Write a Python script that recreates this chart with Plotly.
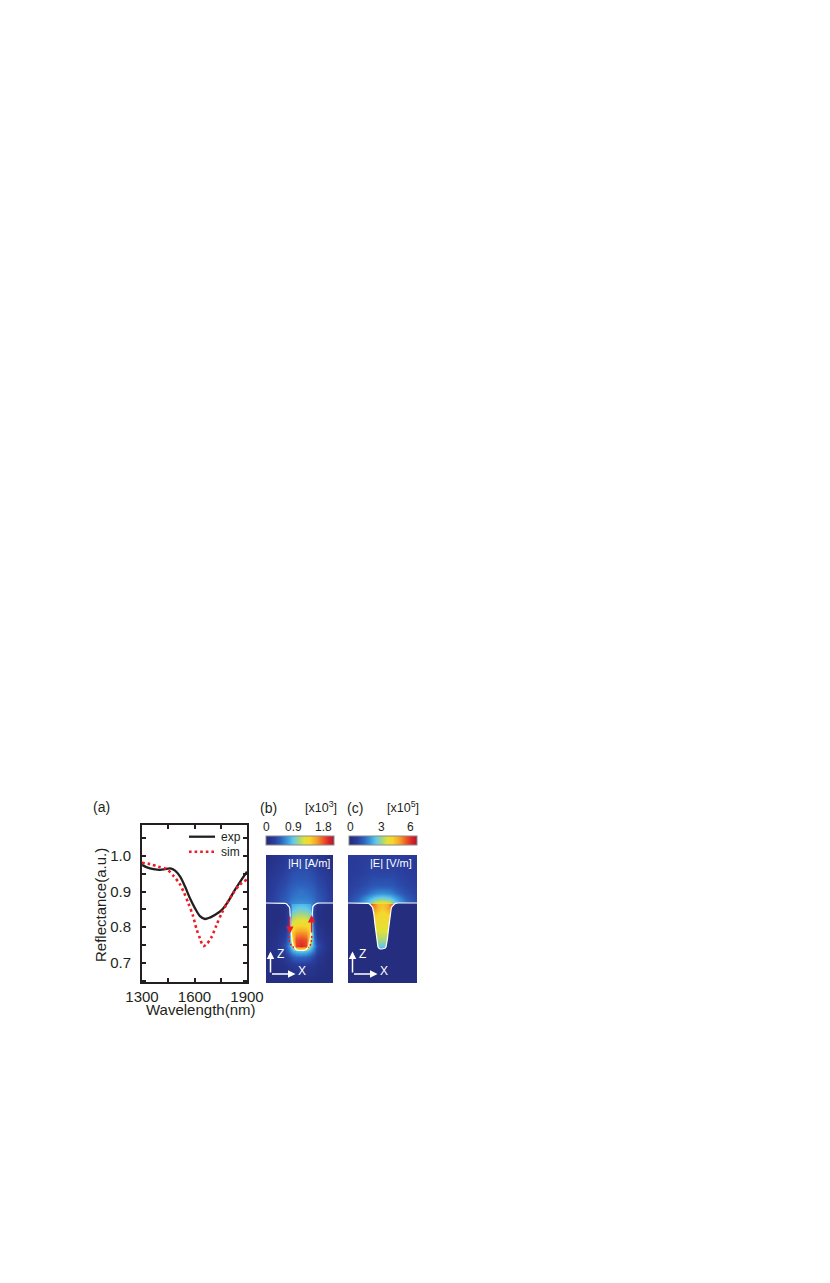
import plotly.graph_objects as go

W, H = 830, 1283
OFF = 8  # page body margin around the plotly div
FONT = "Liberation Sans, Arial, sans-serif"
INK = "#231f20"
RED = "#ec1c24"
NAVY = "#242d7e"

# ---- (a) reflectance spectra ------------------------------------------------
wl_exp = [1300, 1328, 1366, 1404, 1432, 1461, 1489, 1518, 1546, 1574,
          1603, 1631, 1660, 1688, 1716, 1755, 1792, 1830, 1868, 1900]
r_exp = [0.975, 0.968, 0.963, 0.961, 0.963, 0.965, 0.959, 0.942, 0.914, 0.881,
         0.853, 0.831, 0.823, 0.827, 0.834, 0.848, 0.872, 0.904, 0.933, 0.956]

wl_sim = [1300, 1347, 1394, 1442, 1480, 1514, 1540, 1565, 1590, 1612,
          1631, 1650, 1669, 1698, 1726, 1755, 1786, 1820, 1858, 1900]
r_sim = [0.981, 0.977, 0.970, 0.963, 0.944, 0.923, 0.897, 0.867, 0.834, 0.794,
         0.769, 0.747, 0.752, 0.773, 0.806, 0.839, 0.867, 0.895, 0.919, 0.934]

# ---- (b) |H| map [x10^3 A/m], x across the groove, z from the top surface ---
h_x = [-35, -24, -16, -12.5, -9, -5, 0, 5, 9, 12.5, 16, 24, 32]
h_z = [48, 35, 22, 12, 5, 0.5, -0.5, -6, -14, -22, -30, -37, -43, -48, -54, -63, -80]
h_map = [
    [0.05, 0.11, 0.16, 0.20, 0.22, 0.23, 0.23, 0.23, 0.22, 0.20, 0.16, 0.11, 0.05],
    [0.09, 0.16, 0.22, 0.25, 0.27, 0.29, 0.29, 0.29, 0.27, 0.25, 0.22, 0.16, 0.09],
    [0.13, 0.22, 0.27, 0.31, 0.34, 0.36, 0.36, 0.36, 0.34, 0.31, 0.27, 0.22, 0.13],
    [0.16, 0.25, 0.32, 0.38, 0.41, 0.43, 0.45, 0.43, 0.41, 0.38, 0.32, 0.25, 0.16],
    [0.18, 0.27, 0.36, 0.41, 0.45, 0.47, 0.47, 0.47, 0.45, 0.41, 0.36, 0.27, 0.18],
    [0.18, 0.27, 0.38, 0.45, 0.50, 0.52, 0.54, 0.52, 0.50, 0.45, 0.38, 0.27, 0.18],
    [0.05, 0.07, 0.11, 0.36, 0.61, 0.65, 0.67, 0.65, 0.61, 0.36, 0.11, 0.07, 0.05],
    [0.05, 0.05, 0.09, 0.22, 0.68, 0.74, 0.76, 0.74, 0.68, 0.22, 0.09, 0.05, 0.05],
    [0.05, 0.05, 0.09, 0.25, 0.86, 0.94, 0.95, 0.94, 0.86, 0.25, 0.09, 0.05, 0.05],
    [0.05, 0.07, 0.13, 0.32, 1.04, 1.13, 1.15, 1.13, 1.04, 0.32, 0.13, 0.07, 0.05],
    [0.05, 0.09, 0.18, 0.40, 1.19, 1.37, 1.40, 1.37, 1.19, 0.40, 0.18, 0.09, 0.05],
    [0.05, 0.11, 0.25, 0.47, 1.12, 1.55, 1.58, 1.55, 1.12, 0.47, 0.25, 0.11, 0.05],
    [0.05, 0.13, 0.31, 0.54, 0.81, 1.58, 1.66, 1.58, 0.81, 0.54, 0.31, 0.13, 0.05],
    [0.05, 0.11, 0.25, 0.43, 0.58, 0.68, 0.72, 0.68, 0.58, 0.43, 0.25, 0.11, 0.05],
    [0.05, 0.09, 0.16, 0.25, 0.34, 0.40, 0.41, 0.40, 0.34, 0.25, 0.16, 0.09, 0.05],
    [0.05, 0.07, 0.09, 0.13, 0.14, 0.16, 0.16, 0.16, 0.14, 0.13, 0.09, 0.07, 0.05],
    [0.05, 0.05, 0.05, 0.05, 0.05, 0.05, 0.05, 0.05, 0.05, 0.05, 0.05, 0.05, 0.05],
]

# ---- (c) |E| map [x10^5 V/m] -------------------------------------------------
e_x = [-34, -24, -16, -11, -7.5, -4, 0, 4, 7.5, 11, 16, 24, 35]
e_z = [48, 30, 18, 10, 5, 0.5, -0.5, -5, -12, -20, -28, -36, -42, -47, -80]
e_map = [
    [0.60, 0.66, 0.72, 0.72, 0.72, 0.72, 0.72, 0.72, 0.72, 0.72, 0.72, 0.66, 0.60],
    [0.66, 0.72, 0.78, 0.84, 0.84, 0.84, 0.84, 0.84, 0.84, 0.84, 0.78, 0.72, 0.66],
    [0.72, 0.84, 0.96, 1.08, 1.14, 1.14, 1.14, 1.14, 1.14, 1.08, 0.96, 0.84, 0.72],
    [0.78, 1.02, 1.32, 1.56, 1.68, 1.74, 1.80, 1.74, 1.68, 1.56, 1.32, 1.02, 0.78],
    [0.84, 1.26, 1.80, 2.16, 2.40, 2.52, 2.58, 2.52, 2.40, 2.16, 1.80, 1.26, 0.84],
    [0.90, 1.50, 2.16, 2.76, 3.30, 3.48, 3.60, 3.48, 3.30, 2.76, 2.16, 1.50, 0.90],
    [4.50, 4.50, 4.80, 5.10, 4.68, 4.20, 4.08, 4.20, 4.68, 5.10, 4.80, 4.50, 4.50],
    [4.56, 4.56, 4.56, 4.56, 4.56, 4.20, 3.96, 4.20, 4.56, 4.56, 4.56, 4.56, 4.56],
    [3.96, 3.96, 3.96, 3.96, 3.96, 3.78, 3.72, 3.78, 3.96, 3.96, 3.96, 3.96, 3.96],
    [3.60, 3.60, 3.60, 3.60, 3.60, 3.60, 3.60, 3.60, 3.60, 3.60, 3.60, 3.60, 3.60],
    [3.36, 3.36, 3.36, 3.36, 3.36, 3.36, 3.36, 3.36, 3.36, 3.36, 3.36, 3.36, 3.36],
    [3.00, 3.00, 3.00, 3.00, 3.00, 3.00, 3.00, 3.00, 3.00, 3.00, 3.00, 3.00, 3.00],
    [2.52, 2.52, 2.52, 2.52, 2.52, 2.52, 2.52, 2.52, 2.52, 2.52, 2.52, 2.52, 2.52],
    [1.92, 1.92, 1.92, 1.92, 1.92, 1.92, 1.92, 1.92, 1.92, 1.92, 1.92, 1.92, 1.92],
    [1.92, 1.92, 1.92, 1.92, 1.92, 1.92, 1.92, 1.92, 1.92, 1.92, 1.92, 1.92, 1.92],
]

# groove cross-sections (same x/z units as the maps)
gb_x = [-35, -18, -16, -14.3, -12.8, -11.8, -11.2, -10.9, -10.6, -10.2, -9.6, -8.8,
        -7.8, -6.5, -4.8, -2.5, 0, 2.5, 4.8, 6.5, 7.8, 8.8, 9.6, 10.2, 10.6, 10.9,
        11.2, 11.8, 12.8, 14.3, 16, 18, 32]
gb_z = [0, 0, -0.3, -1.0, -2.3, -3.8, -5.5, -8, -16, -26, -34, -39,
        -42.5, -45, -46.7, -47.5, -47.7, -47.5, -46.7, -45, -42.5, -39, -34, -26, -16, -8,
        -5.5, -3.8, -2.3, -1.0, -0.3, 0, 0]
gc_x = [-34, -16, -14, -12.5, -11, -10, -9.2, -8.6, -8, -7.2, -6.3, -5.4, -4.7, -4.1,
        -3.3, -2, 0, 2, 3.3, 4.1, 4.7, 5.4, 6.3, 7.2, 8, 8.6, 9.2, 10, 11, 12.5, 14, 16, 35]
gc_z = [0, 0, -0.3, -1.0, -2.2, -3.6, -5.5, -8, -12, -20, -28, -36, -41, -43.5,
        -45, -45.8, -46, -45.8, -45, -43.5, -41, -36, -28, -20, -12, -8, -5.5, -3.6, -2.2,
        -1.0, -0.3, 0, 0]

JET = [[0.0, "#232a78"], [0.12, "#2a3d9c"], [0.22, "#2e62bf"], [0.32, "#3a9ede"],
       [0.40, "#62c8ec"], [0.48, "#9fd58a"], [0.56, "#dfe23a"], [0.64, "#f7d72c"],
       [0.74, "#f6a52a"], [0.84, "#ee5a28"], [0.92, "#e0242a"], [1.0, "#a51d2b"]]


def fx(p):
    return (p - OFF) / W


def fy(p):
    return 1 - (p - OFF) / H


fig = go.Figure()

fig.add_trace(go.Scatter(x=wl_exp, y=r_exp, mode="lines", name="exp",
                         line=dict(color=INK, width=2.3, shape="spline", smoothing=0.8)))
fig.add_trace(go.Scatter(x=wl_sim, y=r_sim, mode="lines", name="sim",
                         line=dict(color=RED, width=2.6, dash="2.6px,3px",
                                   shape="spline", smoothing=0.8)))

cb = dict(orientation="h", xanchor="center", yanchor="middle", y=fy(840.5),
          len=68, lenmode="pixels", thickness=9, xpad=0, ypad=0,
          outlinewidth=1, outlinecolor="#8a8a8a", ticks="", showticklabels=False)

fig.add_trace(go.Heatmap(x=h_x, y=h_z, z=h_map, zsmooth="best", colorscale=JET,
                         zmin=0, zmax=1.8, xaxis="x2", yaxis="y2", hoverinfo="skip",
                         colorbar=dict(cb, x=fx(300))))
fig.add_trace(go.Scatter(x=gb_x, y=gb_z, mode="lines", xaxis="x2", yaxis="y2",
                         line=dict(color="white", width=1.2)))

fig.add_trace(go.Heatmap(x=e_x, y=e_z, z=e_map, zsmooth="best", colorscale=JET,
                         zmin=0, zmax=6, xaxis="x3", yaxis="y3", hoverinfo="skip",
                         colorbar=dict(cb, x=fx(382.5))))
# substrate (no field inside the metal)
fig.add_trace(go.Scatter(x=gc_x + [35, -34], y=gc_z + [-80, -80], mode="lines",
                         fill="toself", fillcolor=NAVY, line=dict(width=0),
                         xaxis="x3", yaxis="y3", hoverinfo="skip"))
fig.add_trace(go.Scatter(x=gc_x, y=gc_z, mode="lines", xaxis="x3", yaxis="y3",
                         line=dict(color="white", width=1.2)))

# current loop in (b)
for xs, zs in (([-12, -11.3, -9.5, -7], [-33, -39, -42.5, -44.5]),
               ([10.8, 10.3, 9, 7], [-33, -39, -42.5, -44.5])):
    fig.add_trace(go.Scatter(x=xs, y=zs, mode="lines", xaxis="x2", yaxis="y2",
                             line=dict(color=RED, width=1.5, dash="2px,2px", shape="spline"),
                             hoverinfo="skip"))

ann = []


def text(s, px, py, size=14, anchor="center", **kw):
    ann.append(dict(text=s, x=fx(px), y=fy(py), xref="paper", yref="paper",
                    showarrow=False, xanchor=anchor, yanchor="middle",
                    font=dict(size=size, color=INK, family=FONT), **kw))


text("(a)", 101, 807)
text("(b)", 268, 808)
text("(c)", 354.5, 808)
text("[x10<sup>3</sup>]", 320.5, 806.5, 12.5)
text("[x10<sup>5</sup>]", 402.5, 806.5, 12.5)
for s, p in (("0", 266), ("0.9", 293), ("1.8", 323), ("0", 350.5), ("3", 381.5), ("6", 410.5)):
    text(s, p, 826.5, 12)
text("Reflectance(a.u.)", 100, 905, 15, textangle=-90)
text("Wavelength(nm)", 200, 1009.5, 15)

# legend drawn by hand (compact rows like the original)
text("exp", 219, 836.7, 12, "left")
text("sim", 219, 851.7, 12, "left")
shapes = [
    dict(type="line", xref="paper", yref="paper", x0=fx(189), x1=fx(215),
         y0=fy(836.7), y1=fy(836.7), line=dict(color=INK, width=2.3)),
    dict(type="line", xref="paper", yref="paper", x0=fx(189), x1=fx(215),
         y0=fy(851.7), y1=fy(851.7), line=dict(color=RED, width=2.6, dash="2.6px,3px")),
]


def arrow(ref, x0, z0, x1, z1, color="white"):
    ann.append(dict(x=x1, y=z1, ax=x0, ay=z0, xref="x" + ref, yref="y" + ref,
                    axref="x" + ref, ayref="y" + ref, text="", showarrow=True,
                    arrowhead=2, arrowsize=1, arrowwidth=1.5, arrowcolor=color,
                    standoff=0, startstandoff=0))


def label(ref, s, x, z, size=12, anchor="center"):
    ann.append(dict(text=s, x=x, y=z, xref="x" + ref, yref="y" + ref, showarrow=False,
                    xanchor=anchor, yanchor="middle",
                    font=dict(size=size, color="white", family=FONT)))


for ref, x0 in (("2", -30.5), ("3", -29.5)):
    arrow(ref, x0, -71, x0, -48.5)
    arrow(ref, x0, -71, x0 + 25, -71)
    label(ref, "Z", x0 + 9.5, -50.5)
    label(ref, "X", x0 + 31, -67.5)
label("2", "|H| [A/m]", 30.5, 40.5, 11, "right")
label("3", "|E| [V/m]", 32, 40.5, 11, "right")
arrow("2", -11.2, -12, -11.2, -31, RED)
arrow("2", 10.6, -31, 10.6, -12, RED)

hidden = dict(visible=False, showgrid=False, zeroline=False)
fig.update_layout(
    width=W, height=H,
    margin=dict(l=0, r=0, t=0, b=0, autoexpand=False),
    paper_bgcolor="white", plot_bgcolor="white",
    font=dict(family=FONT, color=INK, size=15),
    showlegend=False,
    xaxis=dict(domain=[fx(142), fx(247)], range=[1300, 1900], tick0=1300, dtick=300,
               ticks="inside", ticklen=4, tickwidth=1.5, tickcolor=INK,
               minor=dict(dtick=150, tick0=1300, ticks="inside", ticklen=4, tickwidth=1.5,
                          tickcolor=INK),
               showline=True, linewidth=2, linecolor=INK, mirror="ticks",
               showgrid=False, zeroline=False, tickfont=dict(size=15), anchor="y"),
    yaxis=dict(domain=[fy(982), fy(825)], range=[0.646, 1.087], tick0=0.7, dtick=0.1,
               tickformat=".1f",
               ticks="inside", ticklen=4, tickwidth=1.5, tickcolor=INK,
               minor=dict(dtick=0.05, tick0=0.7, ticks="inside", ticklen=4, tickwidth=1.5,
                          tickcolor=INK),
               showline=True, linewidth=2, linecolor=INK, mirror="ticks",
               showgrid=False, zeroline=False, tickfont=dict(size=15),
               ticklabelstandoff=6, anchor="x"),
    xaxis2=dict(hidden, domain=[fx(266), fx(333)], range=[-35, 32], anchor="y2"),
    yaxis2=dict(hidden, domain=[fy(983), fy(855)], range=[-80, 48], anchor="x2"),
    xaxis3=dict(hidden, domain=[fx(348), fx(417)], range=[-34, 35], anchor="y3"),
    yaxis3=dict(hidden, domain=[fy(983), fy(855)], range=[-80, 48], anchor="x3"),
    annotations=ann,
    shapes=shapes,
)

fig.write_html("out.html")
